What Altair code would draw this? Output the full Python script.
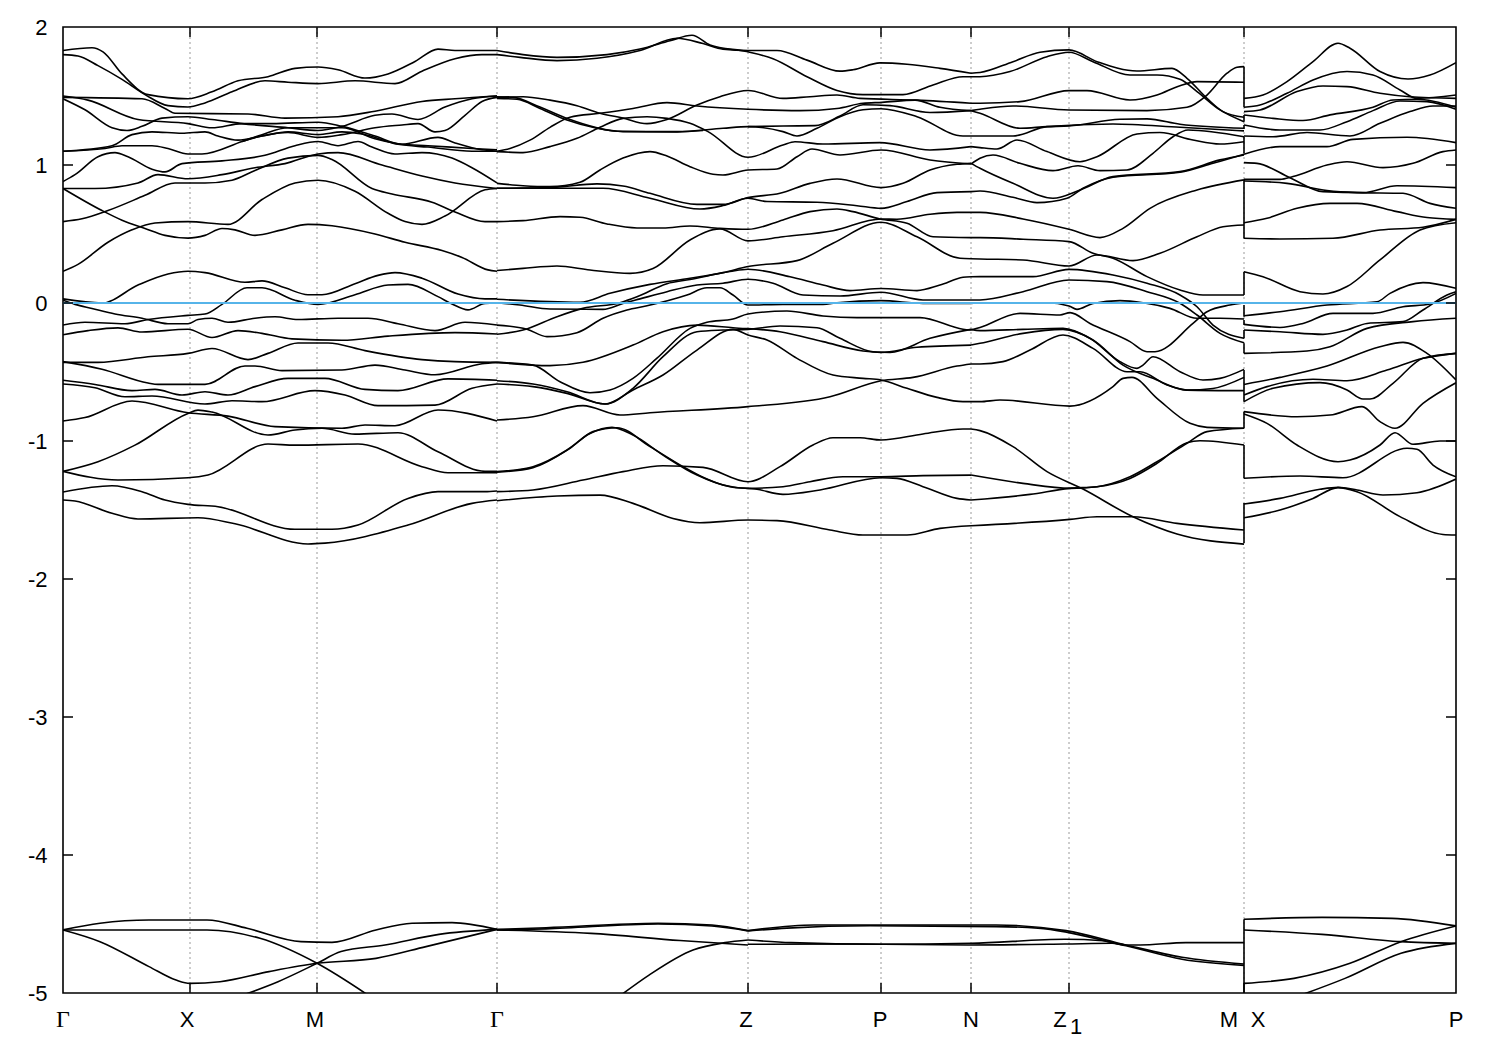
import altair as alt
import pandas as pd

# ---- high symmetry points along the k-path ----
tick_k = [0, 127, 254, 434, 685, 818, 908, 1006, 1181, 1393]
grid_k = [127, 254, 434, 685, 818, 908, 1006, 1181]
label_k = [124, 252, 683, 817, 908, 997, 1166, 1195, 1393]
label_text = ["X", "M", "Z", "P", "N", "Z", "M", "X", "P"]
gamma_k = [0, 434]
gamma_text = ["Γ", "Γ"]
y_ticks = [-5, -4, -3, -2, -1, 0, 1, 2]

# ---- Γ → X → M → Γ ----
s1a = [(0,1.83),(29,1.85),(40,1.82),(59,1.66),(85,1.51),(125,1.48),(149,1.53),(175,1.61),(205,1.64),(232,1.70),(255,1.71),(275,1.69),(302,1.63),(325,1.66),(352,1.75),(375,1.84),(392,1.83),(415,1.83),(434,1.83)]
s1b = [(0,1.80),(15,1.79),(35,1.72),(59,1.62),(82,1.51),(105,1.43),(125,1.42),(142,1.45),(169,1.53),(202,1.61),(225,1.60),(255,1.59),(292,1.61),(332,1.59),(359,1.68),(392,1.77),(419,1.80),(434,1.80)]
s1c = [(0,1.49),(79,1.48),(102,1.41),(112,1.375),(185,1.37),(222,1.34),(275,1.35),(312,1.39),(359,1.46),(392,1.48),(434,1.50)]
s1d = [(0,1.50),(25,1.47),(75,1.33),(125,1.30),(149,1.27),(179,1.30),(209,1.30),(255,1.31),(279,1.28),(312,1.21),(339,1.15),(375,1.20),(392,1.16),(419,1.11),(434,1.10)]
s1e = [(0,1.48),(22,1.40),(49,1.27),(64,1.25),(79,1.28),(99,1.34),(125,1.35),(149,1.33),(179,1.30),(225,1.27),(255,1.25),(279,1.28),(312,1.36),(329,1.37),(355,1.33),(382,1.42),(409,1.48),(434,1.50)]
s1g = [(0,1.10),(49,1.14),(69,1.22),(89,1.24),(119,1.23),(142,1.24),(155,1.21),(175,1.18),(199,1.21),(225,1.24),(255,1.22),(279,1.24),(299,1.225),(335,1.15),(365,1.13),(409,1.10),(434,1.10)]
s1h = [(0,1.10),(42,1.12),(59,1.14),(89,1.14),(105,1.12),(125,1.08),(139,1.08),(179,1.17),(199,1.22),(225,1.27),(255,1.27),(279,1.27),(312,1.19),(339,1.15),(365,1.14),(409,1.12),(434,1.11)]
s1h2 = [(179,1.17),(199,1.21),(225,1.235),(255,1.20),(279,1.22),(312,1.27),(339,1.29),(355,1.30),(372,1.24),(382,1.25),(402,1.36),(419,1.46),(434,1.49)]
s1i = [(0,0.88),(12,0.93),(35,1.06),(52,1.09),(65,1.06),(89,0.97),(102,0.95),(119,1.01),(159,1.03),(202,1.07),(232,1.14),(255,1.17),(275,1.14),(295,1.17),(309,1.13),(332,1.08),(359,1.09),(389,1.05),(409,0.98),(434,0.87)]
s1j = [(0,0.83),(32,0.83),(75,0.87),(95,0.93),(125,0.90),(159,0.93),(192,0.98),(222,1.01),(255,1.08),(275,1.09),(319,1.00),(359,0.92),(392,0.87),(434,0.83)]
s1k = [(0,0.83),(39,0.67),(59,0.60),(82,0.54),(102,0.49),(125,0.47),(142,0.49),(159,0.54),(172,0.53),(192,0.49),(219,0.53),(245,0.57),(269,0.56),(312,0.50),(342,0.44),(379,0.38),(399,0.33),(425,0.24),(434,0.23)]
s1l = [(0,0.59),(19,0.61),(45,0.67),(82,0.78),(112,0.87),(142,0.87),(169,0.89),(192,0.96),(225,1.05),(255,1.07),(269,1.04),(309,0.83),(329,0.79),(369,0.73),(392,0.66),(422,0.59),(434,0.59)]
s1m = [(0,0.23),(15,0.28),(45,0.44),(69,0.53),(92,0.58),(125,0.59),(165,0.57),(199,0.75),(232,0.87),(255,0.89),(292,0.81),(325,0.65),(342,0.59),(359,0.57),(382,0.63),(422,0.82),(434,0.83)]
s1n = [(0,0.03),(39,0.0),(75,0.13),(105,0.21),(125,0.23),(142,0.22),(182,0.15),(199,0.16),(222,0.11),(245,0.06),(259,0.06),(292,0.14),(315,0.20),(332,0.22),(359,0.18),(395,0.065),(422,0.03),(434,0.03)]
s1o = [(0,0.02),(12,-0.01),(29,-0.04),(52,-0.08),(79,-0.11),(105,-0.15),(125,-0.15),(135,-0.12),(149,-0.11),(165,-0.14),(192,-0.11),(212,-0.10),(235,-0.12),(275,-0.11),(305,-0.11),(335,-0.15),(372,-0.20),(402,-0.14),(434,-0.16)]
s1p = [(0,-0.16),(22,-0.14),(62,-0.15),(85,-0.12),(125,-0.09),(142,-0.08),(159,-0.01),(184,0.11),(199,0.11),(232,0.02),(255,-0.01),(292,0.06),(325,0.13),(345,0.135),(375,0.046),(389,-0.007),(405,-0.05),(422,-0.003),(434,0.0)]
s1r = [(0,-0.23),(25,-0.20),(55,-0.18),(79,-0.21),(125,-0.19),(149,-0.25),(175,-0.20),(199,-0.22),(229,-0.26),(279,-0.27),(325,-0.24),(392,-0.215),(434,-0.225)]
s1s = [(0,-0.43),(35,-0.43),(85,-0.39),(125,-0.365),(149,-0.33),(185,-0.41),(205,-0.365),(235,-0.29),(265,-0.29),(302,-0.345),(359,-0.41),(392,-0.425),(434,-0.43)]
s1t = [(0,-0.425),(39,-0.48),(85,-0.58),(95,-0.59),(142,-0.59),(182,-0.456),(192,-0.456),(219,-0.49),(279,-0.486),(312,-0.45),(342,-0.486),(372,-0.52),(419,-0.44),(434,-0.43)]
s1u = [(0,-0.56),(32,-0.59),(69,-0.635),(92,-0.626),(119,-0.667),(142,-0.643),(165,-0.667),(192,-0.606),(225,-0.546),(262,-0.546),(302,-0.626),(335,-0.635),(385,-0.55),(434,-0.56)]
s1v = [(0,-0.587),(32,-0.614),(62,-0.679),(89,-0.674),(142,-0.732),(169,-0.708),(199,-0.715),(252,-0.635),(282,-0.667),(315,-0.744),(372,-0.74),(409,-0.618),(434,-0.587)]
s1w = [(0,-0.855),(22,-0.83),(69,-0.71),(125,-0.795),(165,-0.82),(212,-0.896),(279,-0.908),(302,-0.884),(332,-0.889),(375,-0.775),(434,-0.855)]
s1x = [(0,-1.22),(35,-1.15),(72,-1.03),(125,-0.80),(135,-0.776),(149,-0.79),(205,-0.957),(232,-0.92),(259,-0.908),(292,-0.95),(335,-0.94),(375,-1.078),(422,-1.22),(434,-1.22)]
s1y = [(0,-1.22),(55,-1.283),(125,-1.266),(145,-1.246),(205,-1.022),(232,-1.03),(295,-1.022),(359,-1.186),(385,-1.23),(434,-1.23)]
s1z = [(0,-1.37),(49,-1.324),(79,-1.367),(102,-1.428),(125,-1.459),(155,-1.476),(232,-1.64),(269,-1.64),(295,-1.609),(345,-1.416),(375,-1.367),(422,-1.367),(434,-1.362)]
s1aa = [(0,-1.428),(12,-1.435),(49,-1.524),(75,-1.565),(135,-1.556),(172,-1.60),(245,-1.746),(262,-1.74),(345,-1.609),(409,-1.452),(434,-1.428)]

# ---- Γ → Z → P → N ----
s2a = [(434,1.83),(460,1.80),(494,1.78),(544,1.80),(577,1.84),(607,1.90),(629,1.94),(647,1.87),(685,1.82),(710,1.77),(744,1.64),(774,1.54),(800,1.51),(840,1.51),(870,1.58),(900,1.64),(908,1.64)]
s2b = [(434,1.80),(457,1.78),(494,1.756),(534,1.773),(577,1.83),(614,1.918),(640,1.88),(660,1.84),(685,1.83),(714,1.83),(744,1.76),(777,1.68),(790,1.69),(817,1.74),(844,1.73),(877,1.70),(908,1.665)]
s2c = [(434,1.49),(460,1.495),(487,1.47),(514,1.43),(537,1.375),(560,1.34),(584,1.30),(604,1.33),(634,1.435),(657,1.495),(685,1.54),(720,1.483),(747,1.495),(774,1.507),(797,1.483),(854,1.47),(908,1.447)]
s2d = [(434,1.483),(454,1.476),(477,1.41),(504,1.326),(534,1.266),(560,1.242),(614,1.242),(660,1.266),(685,1.278),(720,1.242),(734,1.21),(754,1.266),(777,1.35),(800,1.40),(818,1.408),(854,1.35),(900,1.21),(908,1.21)]
s2e = [(434,1.495),(450,1.49),(477,1.42),(505,1.335),(534,1.27),(554,1.245),(614,1.24),(640,1.25)]
s2f = [(434,1.097),(460,1.09),(487,1.133),(514,1.193),(537,1.273),(560,1.338),(584,1.35),(604,1.338),(627,1.302),(645,1.242),(685,1.056),(720,1.145),(732,1.169),(760,1.152),(817,1.162),(867,1.109),(908,1.133)]
s2g = [(434,1.10),(447,1.12),(467,1.18),(487,1.273),(507,1.346),(537,1.375),(570,1.41),(604,1.452),(634,1.428),(685,1.404),(737,1.394),(774,1.41),(800,1.447),(819,1.454),(852,1.47),(877,1.418),(908,1.394)]
s2h = [(685,1.278),(720,1.283),(752,1.285),(777,1.355),(800,1.437),(827,1.43),(867,1.38),(908,1.394)]
s2i = [(434,0.867),(460,0.85),(487,0.843),(517,0.875),(537,0.964),(560,1.05),(587,1.097),(604,1.065),(627,0.988),(650,0.933),(660,0.928),(685,0.964),(714,0.971),(734,1.06),(749,1.116),(777,1.073),(818,1.109),(867,1.036),(908,1.007)]
s2j = [(434,0.831),(487,0.836),(534,0.863),(560,0.848),(587,0.795),(634,0.715),(660,0.715),(685,0.764),(717,0.795),(747,0.867),(774,0.899),(818,0.836),(840,0.867),(867,0.964),(894,1.005),(908,1.012)]
s2k = [(434,0.831),(487,0.831),(540,0.831),(587,0.759),(637,0.681),(660,0.706),(685,0.759),(704,0.735),(754,0.73),(794,0.705),(818,0.686),(844,0.735),(874,0.80),(908,0.807)]
s2l = [(434,0.59),(460,0.597),(497,0.626),(517,0.621),(544,0.573),(574,0.544),(600,0.544),(627,0.558),(657,0.541),(685,0.534),(720,0.602),(747,0.662),(774,0.681),(790,0.662),(817,0.609),(844,0.578),(870,0.48),(908,0.474)]
s2m = [(434,0.235),(460,0.251),(494,0.268),(527,0.239),(567,0.215),(590,0.25),(627,0.457),(657,0.537),(685,0.45),(720,0.48),(770,0.524),(818,0.609),(834,0.607),(867,0.643),(894,0.657),(908,0.657)]
s2n = [(434,0.027),(517,0.005),(547,0.07),(587,0.135),(627,0.179),(660,0.22),(685,0.264),(734,0.307),(770,0.433),(818,0.585),(854,0.48),(897,0.324),(908,0.321)]
s2o = [(434,-0.227),(460,-0.196),(494,-0.099),(520,-0.039),(557,0.002),(574,0.045),(604,0.14),(627,0.17),(667,0.228),(685,0.245),(727,0.19),(760,0.13),(787,0.09),(818,0.105),(854,0.09),(877,0.13),(900,0.186),(908,0.19)]
s2p = [(434,0.002),(457,-0.015),(487,-0.044),(540,-0.046),(560,-0.003),(577,0.03),(604,0.082),(634,0.131),(660,0.143),(685,0.172),(710,0.143),(740,0.058),(777,0.051),(818,0.078),(860,0.022),(908,0.022)]
s2q = [(434,-0.16),(464,-0.19),(484,-0.244),(514,-0.215),(540,-0.11),(564,-0.05),(584,-0.02),(624,0.058),(644,0.11),(657,0.11),(670,0.058),(685,-0.015),(720,-0.01),(760,-0.01),(774,0.002),(818,0.017),(860,-0.003),(908,-0.003)]
s2b1 = [(434,-0.43),(470,-0.45),(497,-0.57),(527,-0.65),(547,-0.63),(570,-0.546),(594,-0.40),(627,-0.184),(644,-0.14),(670,-0.116),(685,-0.08),(724,-0.058),(760,-0.094),(794,-0.106),(857,-0.106),(900,-0.19),(908,-0.196)]
s2b2 = [(434,-0.587),(470,-0.606),(504,-0.655),(542,-0.732),(570,-0.618),(600,-0.389),(634,-0.208),(660,-0.196),(685,-0.191),(717,-0.167),(754,-0.179),(777,-0.256),(810,-0.353),(827,-0.358),(867,-0.256),(908,-0.191)]
s2b3 = [(434,-0.563),(470,-0.587),(504,-0.643),(542,-0.732),(570,-0.63),(600,-0.522),(634,-0.341),(670,-0.191),(685,-0.232),(704,-0.268),(734,-0.401),(770,-0.522),(800,-0.546),(818,-0.558),(844,-0.618),(874,-0.684),(900,-0.715),(908,-0.715)]
s2c1 = [(434,-0.43),(487,-0.454),(520,-0.43),(570,-0.305),(600,-0.208),(634,-0.16),(670,-0.179),(717,-0.208),(760,-0.28),(800,-0.348),(818,-0.358),(854,-0.321),(908,-0.305)]
s2z1 = [(434,-0.848),(470,-0.824),(520,-0.744),(557,-0.812),(587,-0.795),(685,-0.751),(767,-0.679),(818,-0.563),(850,-0.539),(894,-0.457),(908,-0.442)]
s2d1 = [(434,-1.222),(470,-1.186),(504,-1.065),(527,-0.945),(549,-0.901),(570,-0.957),(600,-1.102),(634,-1.247),(667,-1.331),(694,-1.35),(720,-1.387),(757,-1.355),(818,-1.266),(834,-1.271),(860,-1.331),(894,-1.416),(908,-1.428)]
s2d2 = [(434,-1.227),(470,-1.193),(507,-1.053),(530,-0.932),(554,-0.904),(587,-1.041),(620,-1.186),(640,-1.263),(660,-1.319),(685,-1.343),(720,-1.331),(747,-1.295),(780,-1.259),(818,-1.259),(860,-1.251),(908,-1.247)]
s2e1 = [(434,-1.367),(470,-1.355),(520,-1.283),(560,-1.222),(600,-1.179),(640,-1.191),(685,-1.295),(717,-1.186),(750,-1.029),(770,-0.976),(797,-0.976),(818,-0.993),(860,-0.949),(900,-0.913),(908,-0.913)]
s2f1 = [(434,-1.433),(494,-1.399),(537,-1.392),(570,-1.452),(610,-1.561),(637,-1.592),(685,-1.573),(714,-1.577),(767,-1.645),(800,-1.681),(844,-1.681),(877,-1.633),(908,-1.614)]

# ---- N → Z1 → M ----
s3a = [(908,1.665),(917,1.67),(950,1.749),(977,1.817),(1006,1.834),(1034,1.749),(1074,1.681),(1109,1.70),(1124,1.628),(1144,1.483),(1160,1.387),(1181,1.346)]
s3b = [(908,1.64),(917,1.64),(947,1.677),(984,1.785),(1006,1.817),(1030,1.749),(1067,1.652),(1094,1.652),(1117,1.621),(1134,1.532),(1157,1.399),(1181,1.314)]
s3c = [(908,1.447),(917,1.447),(957,1.459),(1006,1.539),(1024,1.539),(1067,1.471),(1094,1.507),(1117,1.575),(1134,1.604),(1181,1.60)]
s3d = [(908,1.394),(917,1.404),(950,1.428),(1006,1.399),(1084,1.394),(1124,1.418),(1144,1.507),(1164,1.665),(1174,1.708),(1181,1.713)]
s3e = [(908,1.394),(917,1.375),(957,1.266),(984,1.278),(1006,1.283),(1057,1.331),(1084,1.334),(1117,1.295),(1181,1.266)]
s3f = [(908,1.21),(917,1.21),(950,1.21),(984,1.278),(1050,1.297),(1117,1.273),(1181,1.247)]
s3g = [(908,1.133),(917,1.126),(934,1.116),(954,1.181),(984,1.097),(1017,1.024),(1034,1.06),(1074,1.225),(1097,1.235),(1130,1.181),(1157,1.152),(1181,1.169)]
s3h = [(908,1.007),(917,1.049),(930,1.073),(957,1.012),(990,0.959),(1015,0.995),(1037,0.959),(1064,0.964),(1090,1.085),(1110,1.205),(1125,1.254),(1181,1.205)]
s3i = [(908,1.012),(917,0.976),(950,0.867),(990,0.759),(1017,0.819),(1050,0.916),(1117,0.952),(1157,1.037),(1181,1.073)]
s3j = [(908,0.807),(917,0.812),(950,0.766),(974,0.727),(1004,0.759),(1020,0.831),(1050,0.911),(1117,0.947),(1150,1.012),(1181,1.078)]
s3k = [(908,0.657),(917,0.657),(960,0.609),(1006,0.534),(1037,0.474),(1060,0.541),(1087,0.686),(1134,0.819),(1181,0.892)]
s3l = [(908,0.474),(917,0.474),(960,0.462),(1006,0.445),(1030,0.36),(1050,0.324),(1084,0.191),(1117,0.094),(1140,0.058),(1181,0.058)]
s3m = [(908,0.321),(917,0.319),(960,0.312),(1006,0.268),(1034,0.348),(1070,0.307),(1097,0.36),(1134,0.48),(1160,0.553),(1181,0.565)]
s3n = [(908,0.19),(917,0.191),(970,0.191),(1006,0.244),(1050,0.203),(1084,0.143),(1117,0.058),(1134,-0.027),(1150,-0.16),(1181,-0.256)]
s3o = [(908,0.022),(917,0.022),(960,0.082),(1006,0.167),(1044,0.155),(1084,0.082),(1117,-0.002),(1134,-0.087),(1157,-0.22),(1181,-0.288)]
s3p = [(908,-0.003),(917,0.002),(984,0.002),(1006,-0.022),(1014,-0.046),(1030,-0.003),(1057,0.017),(1080,0.002),(1107,-0.039),(1134,-0.111),(1157,-0.111),(1181,-0.116)]
s3q = [(908,-0.196),(917,-0.177),(957,-0.075),(997,-0.087),(1007,-0.07),(1027,-0.148),(1067,-0.28),(1084,-0.353),(1092,-0.353),(1130,-0.148),(1144,-0.063),(1167,-0.015),(1181,0.0)]
s3r = [(908,-0.191),(917,-0.2),(960,-0.191),(1000,-0.184),(1027,-0.256),(1057,-0.425),(1074,-0.474),(1080,-0.45),(1090,-0.389),(1117,-0.498),(1140,-0.558),(1157,-0.546),(1181,-0.481)]
s3s = [(908,-0.305),(917,-0.292),(960,-0.22),(1000,-0.191),(1030,-0.268),(1060,-0.45),(1090,-0.546),(1124,-0.631),(1150,-0.619),(1181,-0.539)]
s3t = [(908,-0.442),(917,-0.442),(940,-0.425),(967,-0.341),(1000,-0.232),(1030,-0.329),(1064,-0.498),(1077,-0.498),(1104,-0.594),(1124,-0.631),(1181,-0.635)]
s3u = [(908,-0.715),(917,-0.715),(937,-0.703),(1007,-0.747),(1050,-0.606),(1060,-0.546),(1069,-0.539),(1094,-0.691),(1127,-0.872),(1144,-0.901),(1181,-0.908)]
s3v = [(908,-0.913),(917,-0.925),(950,-1.041),(984,-1.222),(1020,-1.348),(1070,-1.549),(1114,-1.674),(1181,-1.747)]
s3w = [(908,-1.247),(960,-1.307),(1007,-1.343),(1034,-1.331),(1067,-1.259),(1094,-1.15),(1124,-1.017),(1144,-0.932),(1181,-0.908)]
s3x = [(908,-1.428),(967,-1.387),(1006,-1.343),(1034,-1.331),(1067,-1.271),(1094,-1.162),(1124,-1.012),(1137,-0.998),(1181,-1.029)]
s3y = [(908,-1.614),(1007,-1.568),(1034,-1.549),(1070,-1.549),(1114,-1.597),(1181,-1.645)]

# ---- X → P ----
s4a = [(1181,1.483),(1200,1.507),(1224,1.604),(1250,1.749),(1275,1.882),(1287,1.846),(1317,1.677),(1345,1.623),(1367,1.652),(1393,1.742)]
s4b = [(1181,1.418),(1197,1.435),(1224,1.52),(1250,1.616),(1284,1.677),(1310,1.652),(1337,1.544),(1354,1.483),(1393,1.507)]
s4c = [(1181,1.387),(1197,1.399),(1234,1.532),(1260,1.573),(1284,1.568),(1317,1.52),(1347,1.495),(1393,1.483)]
s4d = [(1181,1.362),(1210,1.338),(1240,1.322),(1267,1.363),(1310,1.418),(1330,1.471),(1354,1.476),(1393,1.418)]
s4e = [(1181,1.29),(1217,1.254),(1257,1.254),(1284,1.314),(1310,1.394),(1337,1.464),(1364,1.459),(1393,1.404)]
s4f = [(1181,1.21),(1210,1.205),(1244,1.235),(1287,1.21),(1317,1.302),(1347,1.387),(1370,1.428),(1393,1.428)]
s4g = [(1181,1.078),(1217,1.133),(1264,1.133),(1290,1.186),(1344,1.201),(1393,1.162)]
s4h = [(1181,1.017),(1194,1.012),(1227,0.908),(1260,0.807),(1300,0.80),(1334,0.85),(1393,0.836)]
s4i = [(1181,0.896),(1217,0.896),(1230,0.916),(1264,1.0),(1284,1.024),(1320,0.981),(1350,1.012),(1380,1.097),(1393,1.109)]
s4j = [(1181,0.884),(1224,0.867),(1264,0.814),(1294,0.80),(1340,0.795),(1367,0.722),(1393,0.686)]
s4k = [(1181,0.582),(1204,0.614),(1234,0.686),(1267,0.722),(1294,0.722),(1334,0.662),(1364,0.619),(1393,0.606)]
s4l = [(1181,0.469),(1217,0.464),(1270,0.469),(1317,0.529),(1360,0.549),(1393,0.606)]
s4m = [(1181,0.227),(1200,0.191),(1237,0.082),(1260,0.065),(1284,0.119),(1317,0.312),(1357,0.529),(1393,0.582)]
s4n = [(1181,-0.092),(1217,-0.063),(1264,-0.015),(1314,0.009),(1327,0.07),(1360,0.148),(1393,0.107)]
s4o = [(1181,-0.155),(1217,-0.177),(1240,-0.148),(1270,-0.075),(1310,-0.075),(1340,-0.027),(1367,-0.007),(1393,0.07)]
s4p = [(1181,-0.196),(1217,-0.208),(1260,-0.227),(1284,-0.196),(1304,-0.148),(1340,-0.135),(1360,-0.051),(1384,0.058),(1393,0.082)]
s4q = [(1181,-0.365),(1244,-0.348),(1267,-0.317),(1304,-0.184),(1350,-0.135),(1393,-0.111)]
s4r = [(1181,-0.59),(1217,-0.539),(1264,-0.457),(1317,-0.317),(1340,-0.285),(1364,-0.365),(1393,-0.558)]
s4s = [(1181,-0.667),(1204,-0.606),(1250,-0.553),(1284,-0.563),(1324,-0.486),(1360,-0.401),(1393,-0.365)]
s4t = [(1181,-0.715),(1210,-0.618),(1257,-0.577),(1284,-0.63),(1300,-0.696),(1307,-0.696),(1330,-0.582),(1360,-0.401),(1393,-0.365)]
s4u = [(1181,-0.787),(1234,-0.824),(1267,-0.812),(1299,-0.751),(1317,-0.86),(1332,-0.908),(1360,-0.727),(1393,-0.578)]
s4v = [(1181,-0.804),(1204,-0.872),(1234,-1.029),(1275,-1.15),(1287,-1.138),(1317,-1.029),(1332,-0.94),(1350,-1.024),(1377,-1.0),(1393,-1.0)]
s4w = [(1181,-1.27),(1237,-1.254),(1280,-1.266),(1344,-1.053),(1354,-1.06),(1370,-1.174),(1393,-1.259)]
s4x = [(1181,-1.457),(1217,-1.416),(1257,-1.35),(1275,-1.336),(1294,-1.355),(1320,-1.391),(1354,-1.375),(1393,-1.276)]
s4y = [(1181,-1.556),(1217,-1.5),(1250,-1.416),(1275,-1.338),(1294,-1.367),(1337,-1.548),(1380,-1.677),(1393,-1.681)]

# ---- low-lying group near -4.5 ----
b1 = [(0,-4.543),(37,-4.495),(86,-4.471),(144,-4.471),(184,-4.531),(238,-4.628),(269,-4.633),(313,-4.543),(349,-4.495),(389,-4.49),(434,-4.539)]
b2 = [(0,-4.543),(144,-4.543),(197,-4.604),(254,-4.785),(306,-5.02)]
b3 = [(0,-4.543),(37,-4.628),(86,-4.809),(113,-4.906),(127,-4.93),(157,-4.918),(206,-4.845),(254,-4.785),(313,-4.749),(363,-4.664),(434,-4.539)]
b4 = [(178,-5.02),(215,-4.918),(254,-4.785),(278,-4.70),(322,-4.652),(376,-4.575),(434,-4.539)]
b5 = [(434,-4.539),(483,-4.527),(595,-4.495),(649,-4.507),(685,-4.548)]
b6 = [(434,-4.543),(483,-4.535),(595,-4.50),(649,-4.515),(685,-4.55)]
b7 = [(434,-4.543),(528,-4.568),(617,-4.62),(685,-4.652)]
b8 = [(557,-5.02),(586,-4.87),(630,-4.688),(662,-4.635),(685,-4.616)]
b9 = [(685,-4.548),(751,-4.507),(807,-4.507),(863,-4.507),(933,-4.507),(1003,-4.548),(1063,-4.652),(1119,-4.741),(1181,-4.79)]
b10 = [(685,-4.55),(724,-4.53),(807,-4.513),(933,-4.519),(975,-4.53),(1063,-4.658),(1119,-4.755),(1181,-4.80)]
b11 = [(685,-4.616),(728,-4.635),(817,-4.647),(908,-4.64),(1002,-4.611),(1040,-4.621),(1063,-4.652),(1077,-4.652),(1123,-4.635),(1181,-4.635)]
b12 = [(685,-4.647),(793,-4.645),(905,-4.652),(1002,-4.645),(1049,-4.64),(1063,-4.652)]
b13 = [(1181,-4.466),(1259,-4.452),(1329,-4.459),(1393,-4.514)]
b14 = [(1181,-4.543),(1259,-4.575),(1338,-4.628),(1393,-4.64)]
b15 = [(1181,-4.93),(1231,-4.894),(1287,-4.785),(1338,-4.628),(1393,-4.514)]
b16 = [(1236,-5.02),(1282,-4.894),(1338,-4.712),(1393,-4.64)]

# ---- vertical jumps where the path restarts at M | X ----
jump_top = [1.713,1.362,1.29,1.205,0.892,0.227,-0.014,-0.123,-0.196,-0.292,-0.485,-0.787,-1.029,-1.45,-4.466]
jump_low = [1.418,1.314,1.26,1.085,0.468,0.058,-0.10,-0.16,-0.256,-0.365,-0.715,-0.908,-1.27,-1.74,-5.0]

segments = [
    s1a,s1b,s1c,s1d,s1e,s1g,s1h,s1h2,s1i,s1j,s1k,s1l,s1m,s1n,s1o,s1p,s1r,s1s,s1t,s1u,s1v,s1w,s1x,s1y,s1z,s1aa,
    s2a,s2b,s2c,s2d,s2e,s2f,s2g,s2h,s2i,s2j,s2k,s2l,s2m,s2n,s2o,s2p,s2q,s2b1,s2b2,s2b3,s2c1,s2z1,s2d1,s2d2,s2e1,s2f1,
    s3a,s3b,s3c,s3d,s3e,s3f,s3g,s3h,s3i,s3j,s3k,s3l,s3m,s3n,s3o,s3p,s3q,s3r,s3s,s3t,s3u,s3v,s3w,s3x,s3y,
    s4a,s4b,s4c,s4d,s4e,s4f,s4g,s4h,s4i,s4j,s4k,s4l,s4m,s4n,s4o,s4p,s4q,s4r,s4s,s4t,s4u,s4v,s4w,s4x,s4y,
    b1,b2,b3,b4,b5,b6,b7,b8,b9,b10,b11,b12,b13,b14,b15,b16,
]

rows = [{"band": i, "k": k, "E": e} for i, seg in enumerate(segments) for k, e in seg]
bands = pd.DataFrame(rows)
jumps = pd.DataFrame({"k": [1181] * len(jump_top), "top": jump_top, "low": jump_low})
ticks_x = pd.DataFrame({"k": tick_k[1:-1]})
grid = pd.DataFrame({"k": grid_k})
ticks_y = pd.DataFrame({"E": y_ticks[1:-1]})
labels = pd.DataFrame({"k": label_k, "t": label_text})
gammas = pd.DataFrame({"k": gamma_k, "t": gamma_text})
sub = pd.DataFrame({"k": [1013], "t": ["1"]})
zero = pd.DataFrame({"E": [0]})

W, H = 1393, 966
x_scale = alt.Scale(domain=[0, 1393], nice=False, zero=False)
y_scale = alt.Scale(domain=[-5, 2], nice=False, zero=False)
y_axis = alt.Axis(values=y_ticks, grid=False, ticks=False, domain=False, labelFontSize=22,
                  labelFont="Liberation Sans", labelColor="black", labelPadding=16,
                  labelExpr="toString(datum.value)", title=None)
X = alt.X("k:Q", scale=x_scale, axis=None)
Y = alt.Y("E:Q", scale=y_scale, axis=y_axis)

grid_layer = alt.Chart(grid).mark_rule(color="#9a9a9a", strokeWidth=1, strokeDash=[2, 3]).encode(x=X)
line_layer = alt.Chart(bands).mark_line(color="black", strokeWidth=1.6, interpolate="monotone", clip=True).encode(
    x=X, y=Y, detail="band:N", order="k:Q")
jump_layer = alt.Chart(jumps).mark_rule(color="black", strokeWidth=1.6, clip=True).encode(
    x=X, y=alt.Y("top:Q", scale=y_scale, axis=y_axis), y2="low:Q")
zero_layer = alt.Chart(zero).mark_rule(color="#56b4e9", strokeWidth=2).encode(y=Y)
xt_bottom = alt.Chart(ticks_x).mark_rule(color="black", strokeWidth=1.5).encode(x=X, y=alt.value(H), y2=alt.value(H - 10))
xt_top = alt.Chart(ticks_x).mark_rule(color="black", strokeWidth=1.5).encode(x=X, y=alt.value(0), y2=alt.value(10))
yt_left = alt.Chart(ticks_y).mark_rule(color="black", strokeWidth=1.5).encode(y=Y, x=alt.value(0), x2=alt.value(10))
yt_right = alt.Chart(ticks_y).mark_rule(color="black", strokeWidth=1.5).encode(y=Y, x=alt.value(W), x2=alt.value(W - 10))
lab_layer = alt.Chart(labels).mark_text(fontSize=22, color="black", font="Liberation Sans", align="center", baseline="middle").encode(
    x=X, y=alt.value(H + 27), text="t:N")
gam_layer = alt.Chart(gammas).mark_text(fontSize=24, color="black", font="Liberation Serif", align="center", baseline="middle").encode(
    x=X, y=alt.value(H + 27), text="t:N")
sub_layer = alt.Chart(sub).mark_text(fontSize=22, color="black", font="Liberation Sans", align="center", baseline="middle").encode(
    x=X, y=alt.value(H + 34), text="t:N")

chart = alt.layer(grid_layer, line_layer, jump_layer, zero_layer, xt_bottom, xt_top, yt_left, yt_right, lab_layer, gam_layer, sub_layer).properties(
    width=W, height=H,
    autosize=alt.AutoSizeParams(type="none"),
    padding={"left": 55, "top": 19, "right": 30, "bottom": 55},
    background="white",
).configure_view(stroke="black", strokeWidth=1.6)

chart.save("out.html", embed_options={"renderer": "svg", "actions": False})
